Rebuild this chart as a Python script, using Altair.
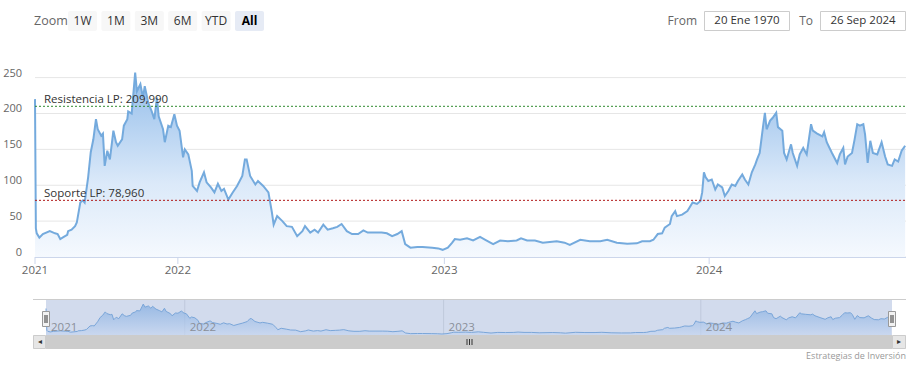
import altair as alt
import pandas as pd

# ---------------- data ----------------
sesiones = [0, 1, 2, 5, 9, 17, 23, 26, 29, 33, 37, 38, 42, 46, 48, 52, 55, 57, 61, 64,
            67, 70, 72, 76, 78, 80, 83, 86, 90, 93, 95, 100, 102, 106, 107, 111, 115, 117, 121, 124,
            126, 130, 134, 137, 140, 142, 147, 149, 153, 156, 160, 163, 166, 170, 172, 176, 180, 181, 186, 189,
            194, 197, 202, 206, 210, 214, 217, 222, 227, 232, 238, 241, 243, 247, 253, 256, 262, 268, 272, 274,
            278, 284, 289, 295, 301, 307, 310, 316, 321, 325, 331, 336, 342, 347, 352, 358, 364, 371, 377, 382,
            390, 398, 404, 410, 416, 421, 425, 431, 439, 445, 456, 463, 468, 474, 479, 482, 488, 496, 503, 511,
            517, 526, 534, 543, 553, 558, 565, 574, 583, 591, 599, 608, 614, 626, 637, 649, 657, 668, 680, 691,
            697, 706, 710, 715, 720, 723, 729, 731, 735, 737, 743, 749, 751, 755, 760, 764, 766, 768, 770, 773,
            777, 781, 784, 789, 792, 796, 800, 804, 807, 812, 815, 819, 823, 827, 829, 832, 836, 838, 840, 844,
            847, 851, 853, 858, 860, 863, 868, 870, 875, 878, 882, 886, 891, 893, 898, 904, 906, 909, 915, 921,
            924, 928, 930, 933, 938, 941, 944, 947, 951, 953, 956, 959, 962, 967, 972, 976, 979, 984, 987, 991,
            995, 999]
precios = [220, 40, 33, 27, 32, 36, 33, 32, 25, 28, 31, 36, 38, 43, 48, 76, 79, 76, 111, 146,
           164, 192, 178, 169, 172, 127, 148, 136, 176, 160, 155, 164, 183, 192, 203, 200, 257, 231, 241, 222,
           238, 215, 203, 192, 222, 196, 178, 160, 183, 181, 199, 183, 176, 139, 150, 143, 120, 99, 92, 104,
           118, 104, 97, 90, 102, 92, 95, 80, 90, 99, 113, 136, 136, 113, 101, 106, 99, 90, 62, 45,
           57, 50, 43, 42, 29, 36, 43, 34, 38, 34, 45, 38, 40, 42, 46, 36, 32, 32, 37, 34,
           34, 34, 33, 29, 32, 36, 18, 13, 14, 14, 13, 12, 10, 13, 20, 25, 24, 26, 23, 28,
           24, 18, 23, 22, 23, 26, 23, 23, 20, 21, 22, 20, 17, 24, 22, 22, 24, 20, 18.6, 19,
           22, 22, 24, 32, 33, 41, 46, 57, 64, 57, 59, 64, 68, 76, 74, 78, 90, 118, 111, 106,
           108, 94, 101, 97, 85, 92, 101, 99, 106, 115, 108, 101, 118, 129, 136, 145, 183, 201, 178, 190,
           194, 201, 181, 176, 145, 136, 157, 145, 127, 143, 152, 143, 185, 176, 172, 168, 174, 160, 145, 131,
           143, 152, 129, 140, 145, 164, 185, 183, 185, 171, 131, 162, 145, 143, 160, 140, 129, 127, 136, 133,
           148, 155]

anios = ["2021", "2022", "2023", "2024"]
anio_sesion = [0, 164, 470, 774]
y_ticks = [0, 50, 100, 150, 200, 250]
niveles = [209.99, 78.96]
nivel_textos = ["Resistencia LP: 209,990", "Soporte LP: 78,960"]
nivel_colores = ["#2f8a2f", "#b01818"]
botones = ["1W", "1M", "3M", "6M", "YTD", "All"]
fecha_desde = "20 Ene 1970"
fecha_hasta = "26 Sep 2024"
credito = "Estrategias de Inversión"

# ---------------- layout ----------------
W, H = 918, 368
FONT = "Open Sans"
X0, X1 = 35, 906
NX0, NX1 = 46, 892
Y_BOT, Y_TOP = 257.0, 77.6
NY_TOP, NY_BOT = 299.5, 335.0

xs = alt.Scale(domain=[0, 1000], range=[X0, X1])
ys = alt.Scale(domain=[0, 250], range=[Y_BOT, Y_TOP])
nxs = alt.Scale(domain=[0, 1000], range=[NX0, NX1])
nys = alt.Scale(domain=[10, 257], range=[334, 304])

df = pd.DataFrame({"s": sesiones, "v": precios})
df_y = pd.DataFrame({"v": y_ticks, "lab": [str(t) for t in y_ticks]})
df_years = pd.DataFrame({"s": anio_sesion, "lab": anios})
df_lv = pd.DataFrame({"v": niveles, "lab": nivel_textos, "c": nivel_colores})
one = pd.DataFrame({"k": [0]})

layers = []

def rect(x, x2, y, y2, fill, stroke=None, sw=0, r=0):
    kw = dict(fill=fill, cornerRadius=r)
    if stroke:
        kw.update(stroke=stroke, strokeWidth=sw)
    return alt.Chart(one).mark_rect(**kw).encode(
        x=alt.value(x), x2=alt.value(x2), y=alt.value(y), y2=alt.value(y2))

def text(t, x, y, size=12, color="#333333", align="left", weight="normal"):
    return alt.Chart(pd.DataFrame({"t": [t]})).mark_text(
        font=FONT, fontSize=size, color=color, align=align, baseline="middle",
        fontWeight=weight).encode(x=alt.value(x), y=alt.value(y), text="t:N")

def hline(x, x2, y, color, sw=1, dash=None):
    kw = dict(color=color, strokeWidth=sw)
    if dash:
        kw["strokeDash"] = dash
    return alt.Chart(one).mark_rule(**kw).encode(
        x=alt.value(x), x2=alt.value(x2), y=alt.value(y))

# ---------------- top range selector ----------------
layers.append(text("Zoom", 34, 20.5, 12.5, "#666666"))
for i, b in enumerate(botones):
    bx = 68 + i * 33.4
    sel = (b == "All")
    layers.append(rect(bx, bx + 29, 11, 31, "#e6ebf5" if sel else "#f7f7f7", r=2))
    layers.append(text(b, bx + 14.5, 20.5, 12, "#000000" if sel else "#333333",
                       align="center", weight="bold" if sel else "normal"))

layers.append(text("From", 697, 20.5, 12, "#666666", align="right"))
layers.append(rect(704.5, 789.5, 11.5, 30.5, "#ffffff", "#cccccc", 1))
layers.append(text(fecha_desde, 747, 20.5, 11.5, "#333333", align="center"))
layers.append(text("To", 813, 20.5, 12, "#666666", align="right"))
layers.append(rect(820.5, 905.5, 11.5, 30.5, "#ffffff", "#cccccc", 1))
layers.append(text(fecha_hasta, 863, 20.5, 11.5, "#333333", align="center"))

# ---------------- main chart ----------------
grid = alt.Chart(df_y).mark_rule(color="#e6e6e6", strokeWidth=1).encode(
    y=alt.Y("v:Q", scale=ys, axis=None), x=alt.value(X0), x2=alt.value(X1))
ylabels = alt.Chart(df_y).mark_text(font=FONT, fontSize=11, color="#666666", align="right",
                                    baseline="alphabetic", dy=-1).encode(
    y=alt.Y("v:Q", scale=ys, axis=None), x=alt.value(22), text="lab:N")
layers += [grid, ylabels]

area = alt.Chart(df).mark_area(
    color=alt.Gradient(gradient="linear",
                       stops=[alt.GradientStop(color="#93bdea", offset=0),
                              alt.GradientStop(color="#dbe9f9", offset=0.6),
                              alt.GradientStop(color="#f5f9fe", offset=1)],
                       x1=0, x2=0, y1=0, y2=1)).encode(
    x=alt.X("s:Q", scale=xs, axis=None), y=alt.Y("v:Q", scale=ys, axis=None))
line = alt.Chart(df).mark_line(color="#74aadd", strokeWidth=2).encode(
    x=alt.X("s:Q", scale=xs, axis=None), y=alt.Y("v:Q", scale=ys, axis=None))
layers += [area, line]

# x axis
layers.append(hline(X0, X1, Y_BOT + 0.5, "#ccd6eb"))
xticks = alt.Chart(df_years).mark_rule(color="#ccd6eb", strokeWidth=1).encode(
    x=alt.X("s:Q", scale=xs, axis=None), y=alt.value(Y_BOT), y2=alt.value(Y_BOT + 7))
xlabels = alt.Chart(df_years).mark_text(font=FONT, fontSize=11.5, color="#666666", align="center",
                                        baseline="middle").encode(
    x=alt.X("s:Q", scale=xs, axis=None), y=alt.value(271), text="lab:N")
layers += [xticks, xlabels]

# support / resistance
lv_rules = alt.Chart(df_lv).mark_rule(strokeWidth=1, strokeDash=[2, 2]).encode(
    y=alt.Y("v:Q", scale=ys, axis=None), x=alt.value(X0), x2=alt.value(X1),
    color=alt.Color("c:N", scale=None))
lv_text = alt.Chart(df_lv).mark_text(font=FONT, fontSize=11.5, color="#333333", align="left",
                                     baseline="alphabetic", dy=-3).encode(
    y=alt.Y("v:Q", scale=ys, axis=None), x=alt.value(44), text="lab:N")
layers += [lv_rules, lv_text]

# ---------------- navigator ----------------
layers.append(rect(NX0, NX1, NY_TOP, NY_BOT, "#d2dbed"))
layers.append(hline(33, 906, NY_TOP, "#cccccc"))
ngrid = alt.Chart(df_years[df_years.s > 0]).mark_rule(color="#bfc9dc", strokeWidth=1).encode(
    x=alt.X("s:Q", scale=nxs, axis=None), y=alt.value(NY_TOP), y2=alt.value(NY_BOT))
nlabels = alt.Chart(df_years).mark_text(font=FONT, fontSize=11.5, color="#8a8f99", align="left",
                                        baseline="middle", dx=5).encode(
    x=alt.X("s:Q", scale=nxs, axis=None), y=alt.value(328), text="lab:N")
narea = alt.Chart(df).mark_area(
    color=alt.Gradient(gradient="linear",
                       stops=[alt.GradientStop(color="#7fabe0", offset=0),
                              alt.GradientStop(color="#c6d6f0", offset=1)],
                       x1=0, x2=0, y1=0, y2=1),
    line=alt.OverlayMarkDef(color="#7aa6d9", strokeWidth=1)).encode(
    x=alt.X("s:Q", scale=nxs, axis=None),
    y=alt.Y("v:Q", scale=nys, axis=None),
    y2=alt.value(NY_BOT))
layers += [ngrid, narea, nlabels]

# scrollbar
layers.append(rect(33, 906, NY_BOT, 349, "#f2f2f2"))
layers.append(rect(NX0, NX1, NY_BOT, 349, "#cccccc"))
layers.append(rect(33.5, 45.5, NY_BOT + 0.5, 348.5, "#e6e6e6", "#cccccc", 1))
layers.append(rect(892.5, 905.5, NY_BOT + 0.5, 348.5, "#e6e6e6", "#cccccc", 1))
layers.append(text("◂", 39.5, 342, 8, "#333333", align="center"))
layers.append(text("▸", 899, 342, 8, "#333333", align="center"))
for gx in (467, 469.5, 472):
    layers.append(alt.Chart(one).mark_rule(color="#333333", strokeWidth=1).encode(
        x=alt.value(gx), y=alt.value(339), y2=alt.value(345)))

# handles
for hx in (NX0, NX1):
    layers.append(rect(hx - 3.5, hx + 3.5, 311.5, 326.5, "#f2f2f2", "#999999", 1))
    for dx in (-1, 1):
        layers.append(alt.Chart(one).mark_rule(color="#333333", strokeWidth=1).encode(
            x=alt.value(hx + dx), y=alt.value(315), y2=alt.value(323)))

# credits
layers.append(text(credito, 906, 356, 9, "#999999", align="right"))

chart = alt.layer(*layers).resolve_scale(x="independent", y="independent").properties(
    width=W, height=H, autosize=alt.AutoSizeParams(type="none"), padding=0,
    background="#ffffff").configure_view(stroke=None)

chart.save("out.html", embed_options={"renderer": "svg", "actions": False})
